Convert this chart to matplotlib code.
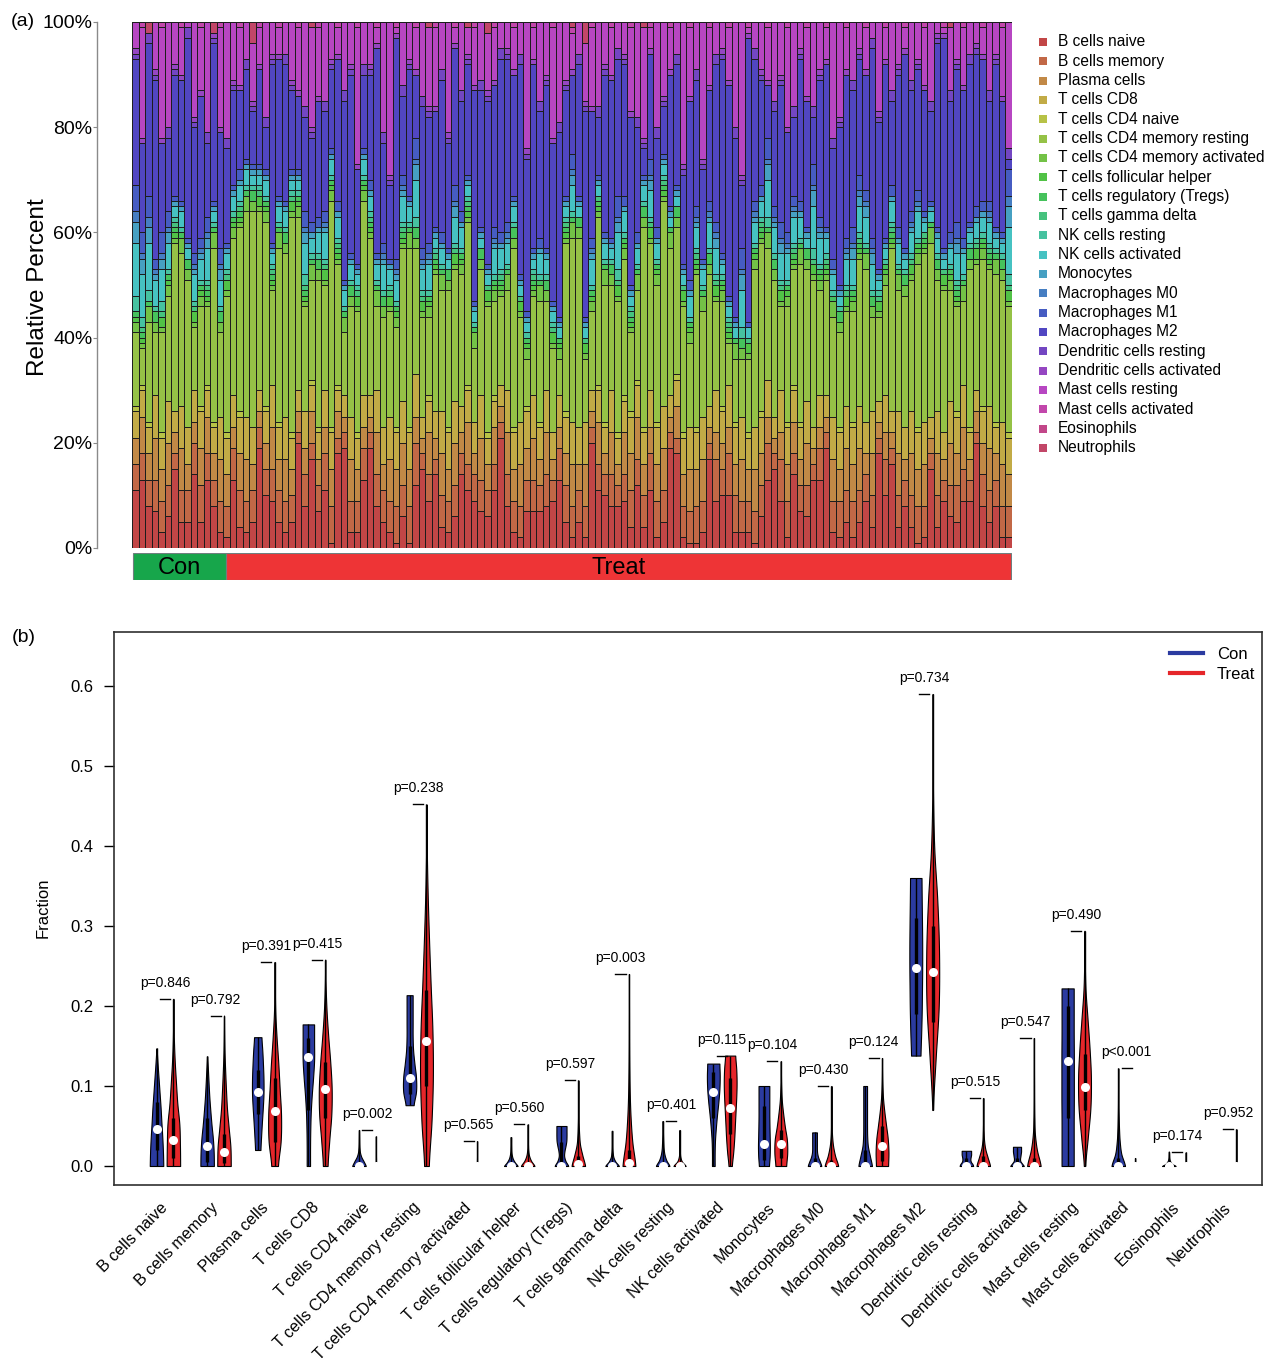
import numpy as np
import matplotlib
matplotlib.use("Agg")
import matplotlib.pyplot as plt
from matplotlib.colors import hsv_to_rgb
from matplotlib.lines import Line2D
from matplotlib.patches import Rectangle

plt.rcParams['font.family'] = ['Liberation Sans', 'DejaVu Sans']

W, H = 1270, 1365

cell_types = ["B cells naive", "B cells memory", "Plasma cells", "T cells CD8",
              "T cells CD4 naive", "T cells CD4 memory resting",
              "T cells CD4 memory activated", "T cells follicular helper",
              "T cells regulatory (Tregs)", "T cells gamma delta", "NK cells resting",
              "NK cells activated", "Monocytes", "Macrophages M0", "Macrophages M1",
              "Macrophages M2", "Dendritic cells resting", "Dendritic cells activated",
              "Mast cells resting", "Mast cells activated", "Eosinophils", "Neutrophils"]

n_con, n_treat = 14, 121
group_names = ["Con", "Treat"]

# ---------------- panel (a): per-sample composition (percent) ----------------
b_naive = [11,13,8,7,3,6,15,5,5,14, 5,13,8,3,2,13,4,3,5,19, 10,9,5,3,5,20,8,17,7,11,
           1,18,19,3,3,13,19,8,5,3, 1,6,1,12,15,9,14,4,3,6, 14,11,9,7,6,11,21,8,3,2,
           7,7,7,8,9,13,5,2,5,2, 20,11,10,8,8,9,4,12,4,11, 2,5,19,18,2,1,1,3,17,9,
           10,10,3,3,3,1,6,13,15,9, 2,14,7,6,13,13,19,3,2,5, 2,5,9,4,18,10,16,4,8,4,
           1,2,15,4,9,6,5,9,9,20, 8,5,8,2,2]
b_memory = [5,5,5,6,6,6,3,6,6,6, 7,5,5,6,6,6,7,6,6,4, 5,6,6,6,5,2,6,3,5,7,
            7,3,3,6,6,6,3,6,6,6, 7,6,7,8,3,5,3,6,6,6, 4,5,5,6,5,5,3,6,6,6,
            6,6,5,6,4,6,7,6,6,6, 3,5,4,6,4,5,7,5,6,7, 7,6,3,3,6,6,7,6,3,8,
            5,8,7,6,6,6,6,7,3,8, 7,4,5,6,3,6,3,6,7,6, 7,6,5,6,3,7,3,6,5,6,
            7,6,3,6,4,6,7,6,4,2, 6,6,5,6,6]
plasma = [5,7,5,8,6,8,4,8,5,4, 7,7,5,8,6,4,7,8,5,3, 5,8,6,8,5,4,5,6,5,5,
          7,5,3,8,6,4,3,8,5,8, 7,8,7,5,3,8,4,8,6,8, 4,8,4,8,5,7,3,8,6,8,
          6,8,5,8,4,4,6,8,5,8, 3,8,4,8,4,8,7,8,6,5, 7,8,3,6,6,8,7,8,3,5,
          5,5,6,8,6,8,6,5,3,5, 7,6,5,8,3,4,3,8,6,8, 7,8,4,8,3,5,3,8,4,8,
          7,8,3,8,4,8,6,8,4,4, 6,8,5,8,6]
t_cd8 = [5,5,5,8,6,8,4,8,7,6, 7,5,5,8,7,6,7,8,7,4, 6,8,6,8,6,4,7,5,5,7,
         7,4,4,8,6,6,4,8,7,8, 7,8,7,8,4,6,5,8,7,8, 5,6,6,8,5,5,4,8,7,8,
         7,8,6,8,5,6,7,8,7,8, 4,6,5,8,5,6,7,6,6,7, 7,8,4,5,7,8,7,8,4,8,
         6,8,7,8,6,8,7,7,4,8, 7,6,6,8,4,6,4,8,7,8, 7,8,6,8,4,7,4,8,6,8,
         7,8,4,8,5,8,7,8,5,4, 6,8,5,8,7]
t_cd4_naive = [1,1,1,0,1,0,0,0,0,0, 1,1,1,0,1,0,1,0,0,0, 1,0,1,0,1,0,0,1,1,0,
               1,1,0,0,1,0,0,0,0,0, 1,0,1,0,0,1,0,0,1,0, 0,1,0,0,1,1,0,0,1,0,
               1,0,1,0,0,0,1,0,0,0, 0,1,1,0,1,1,1,1,1,0, 1,0,0,1,1,0,1,0,0,0,
               1,0,1,0,1,0,1,0,0,0, 1,1,1,0,0,0,0,0,1,0, 1,0,0,0,0,0,0,0,0,0,
               1,0,0,0,0,0,1,0,1,0, 1,0,1,0,1]
t_cd4_mem_rest = [14,7,19,12,19,20,32,29,28,12, 19,15,33,16,26,30,35,39,41,34,
                  35,18,33,31,41,33,20,19,28,20, 43,23,12,21,23,37,30,16,21,20,
                  19,29,34,24,19,15,26,23,26,25, 25,31,14,24,24,18,17,19,34,20,
                  9,19,23,17,16,7,32,35,36,12, 15,32,26,20,25,26,15,17,38,28,
                  26,39,28,28,24,16,29,20,25,17, 20,8,12,11,14,30,32,25,26,16,
                  22,22,30,25,28,20,22,19,18,18, 21,28,29,18,16,21,31,23,25,25,
                  31,32,33,25,27,21,20,16,30,24, 28,26,28,27,24]
t_cd4_mem_act = [2,1,3,2,1,2,1,3,2,1, 2,1,3,2,1,2,1,3,2,1, 2,1,3,2,1,2,1,3,2,1,
                 2,1,3,2,1,2,1,3,2,1, 2,1,3,2,1,2,1,3,2,1, 2,1,3,2,1,2,1,3,2,1,
                 2,1,3,2,1,2,1,3,2,1, 2,1,3,2,1,2,1,3,2,1, 2,1,3,2,1,2,1,3,2,1,
                 2,1,3,2,1,2,1,3,2,1, 2,1,3,2,1,2,1,3,2,1, 2,1,3,2,1,2,1,3,2,1,
                 2,1,3,2,1,2,1,3,2,1, 2,1,3,2,1]
t_fh = [1,1,0,0,2,1,1,0,0,2, 1,1,0,0,2,1,1,0,0,2, 1,1,0,0,2,1,1,0,0,2,
        1,1,0,0,2,1,1,0,0,2, 1,1,0,0,2,1,1,0,0,2, 1,1,0,0,2,1,1,0,0,2,
        1,1,0,0,2,1,1,0,0,2, 1,1,0,0,2,1,1,0,0,2, 1,1,0,0,2,1,1,0,0,2,
        1,1,0,0,2,1,1,0,0,2, 1,1,0,0,2,1,1,0,0,2, 1,1,0,0,2,1,1,0,0,2,
        1,1,0,0,2,1,1,0,0,2, 1,1,0,0,2]
t_reg = [1,1,1,2,0,1,1,1,2,0, 1,1,1,2,0,1,1,1,2,0, 1,1,1,2,0,1,1,1,2,0,
         1,1,1,2,0,1,1,1,2,0, 1,1,1,2,0,1,1,1,2,0, 1,1,1,2,0,1,1,1,2,0,
         1,1,1,2,0,1,1,1,2,0, 1,1,1,2,0,1,1,1,2,0, 1,1,1,2,0,1,1,1,2,0,
         1,1,1,2,0,1,1,1,2,0, 1,1,1,2,0,1,1,1,2,0, 1,1,1,2,0,1,1,1,2,0,
         1,1,1,2,0,1,1,1,2,0, 1,1,1,2,0]
t_gd = [0,1,0,0,1,0,1,0,0,1, 0,1,0,0,1,0,1,0,0,1, 0,1,0,0,1,0,1,0,0,1,
        0,1,0,0,1,0,1,0,0,1, 0,1,0,0,1,0,1,0,0,1, 0,1,0,0,1,0,1,0,0,1,
        0,1,0,0,1,0,1,0,0,1, 0,1,0,0,1,0,1,0,0,1, 0,1,0,0,1,0,1,0,0,1,
        0,1,0,0,1,0,1,0,0,1, 0,1,0,0,1,0,1,0,0,1, 0,1,0,0,1,0,1,0,0,1,
        0,1,0,0,1,0,1,0,0,1, 0,1,0,0,1]
nk_rest = [3,2,2,1,2,1,1,1,0,1, 1,1,1,1,1,1,1,1,1,1, 1,1,1,1,1,1,2,1,1,1,
           1,1,1,1,1,1,1,1,1,1, 1,1,1,2,1,1,1,1,0,1, 1,1,1,0,0,1,1,1,1,0,
           1,1,1,1,1,0,1,1,0,0, 1,0,1,1,2,1,1,1,1,1, 1,1,0,0,0,1,1,1,1,1,
           1,1,0,2,0,1,1,2,1,1, 1,1,1,0,2,1,1,1,1,1, 1,1,1,1,1,1,1,1,1,1,
           1,0,0,1,0,1,1,1,1,1, 1,1,1,1,2]
nk_act = [10,8,9,5,6,5,2,3,2,5, 4,6,2,5,3,3,3,3,2,2, 3,2,3,3,2,2,6,3,4,5,
          3,4,3,3,2,3,3,3,5,3, 4,5,3,7,4,5,2,3,2,5, 4,2,2,2,2,5,4,4,3,2,
          2,2,4,3,2,2,2,5,2,2, 5,2,3,2,7,4,2,3,3,5, 3,2,2,2,2,4,4,3,5,5,
          2,2,2,7,2,4,3,7,5,5, 5,5,4,2,8,5,3,3,2,5, 5,5,5,5,2,2,4,4,2,4,
          5,2,2,3,2,3,5,4,2,3, 3,4,2,2,9]
monocytes = [4,3,3,1,2,2,1,1,1,1, 1,2,1,2,1,1,1,1,1,1, 1,1,1,1,1,1,2,1,1,1,
             1,1,1,1,1,1,1,1,1,1, 1,1,1,3,1,1,1,1,1,2, 1,1,1,1,1,1,1,1,1,1,
             1,1,1,1,1,1,1,2,1,1, 1,1,1,1,2,1,1,1,1,2, 1,1,1,1,1,1,1,1,1,2,
             1,1,1,3,0,1,1,3,1,2, 1,1,1,1,3,1,1,1,1,1, 2,2,2,2,1,1,1,1,1,1,
             1,1,1,1,1,1,2,1,1,1, 1,1,1,1,4]
mac_m0 = [2,1,2,1,1,1,0,0,0,1, 1,1,0,1,0,0,0,0,0,0, 0,0,0,0,0,0,1,0,0,1,
          0,0,0,0,0,0,0,0,1,0, 1,1,0,1,1,1,0,0,0,1, 0,0,0,0,0,1,0,1,0,0,
          0,0,0,0,0,0,0,1,0,0, 1,0,0,0,1,0,0,0,0,1, 0,0,0,0,0,0,1,0,1,1,
          0,0,0,1,0,1,0,1,1,1, 1,1,0,0,1,1,0,0,0,1, 1,1,1,1,0,0,0,0,0,1,
          1,0,0,0,0,0,1,0,0,0, 0,1,0,0,2]
mac_m1 = [5,4,4,2,4,3,1,1,1,2, 2,3,1,3,1,1,2,1,1,1, 1,1,1,1,1,1,3,2,2,2,
          1,2,1,1,1,1,2,1,2,1, 2,2,1,4,2,2,1,2,1,3, 2,1,1,1,1,2,2,2,1,1,
          1,1,2,1,1,1,1,3,1,1, 2,1,1,1,4,2,1,2,1,3, 2,1,1,1,1,2,2,1,2,2,
          1,1,1,4,1,2,2,4,2,3, 2,2,2,1,4,2,1,2,1,2, 3,3,2,2,1,1,2,2,1,2,
          2,1,1,1,1,2,3,2,1,2, 2,2,1,1,5]
mac_m2 = [24,17,29,34,17,14,23,23,38,24, 27,14,30,22,18,18,15,17,10,18,
          8,34,26,26,15,14,18,16,22,19, 15,27,34,34,18,14,20,39,19,14,
          42,15,24,12,27,24,22,29,20,26, 21,21,40,26,31,27,33,31,23,40,
          29,35,24,31,30,35,20,15,25,39, 24,11,30,30,26,25,32,20,5,20,
          17,9,25,23,17,34,24,17,21,30, 37,40,34,12,54,27,20,10,18,26,
          19,15,27,24,9,26,31,21,30,31, 26,22,22,36,28,33,16,29,37,23,
          23,23,17,35,40,25,29,28,30,29, 27,19,31,25,2]
dc_rest = [1,0,2,1,0,2,1,0,2,1, 0,2,1,0,2,1,0,2,1,0, 2,1,0,2,1,0,2,1,0,2,
           1,0,2,1,0,2,1,0,2,1, 0,2,1,0,2,1,0,2,1,0, 2,1,0,2,1,0,2,1,0,2,
           1,0,2,1,0,2,1,0,2,1, 0,2,1,0,2,1,0,2,1,0, 2,1,0,2,1,0,2,1,0,2,
           1,0,2,1,0,2,1,0,2,1, 0,2,1,0,2,1,0,2,1,0, 2,1,0,2,1,0,2,1,0,2,
           1,0,2,1,0,2,1,0,2,1, 0,2,1,0,2]
dc_act = [1,1,0,1,1,0,1,1,0,1, 1,0,1,1,0,1,1,0,1,1, 0,1,1,0,1,1,0,1,1,0,
          1,1,0,1,1,0,1,1,0,1, 1,0,1,1,0,1,1,0,1,1, 0,1,1,0,1,1,0,1,1,0,
          1,1,0,1,1,0,1,1,0,1, 1,0,1,1,0,1,1,0,1,1, 0,1,1,0,1,1,0,1,1,0,
          1,1,0,1,1,0,1,1,0,1, 1,0,1,1,0,1,1,0,1,1, 0,1,1,0,1,1,0,1,1,0,
          1,1,0,1,1,0,1,1,0,1, 1,0,1,1,0]
mast_rest = [5,21,0,9,21,20,8,9,1,18, 12,21,0,19,22,11,11,7,11,7, 18,6,5,6,11,12,16,19,13,15,
             7,5,13,8,26,8,8,3,21,29, 1,12,7,8,14,15,15,9,21,3, 13,5,11,11,11,10,5,5,8,6,
             24,6,15,10,21,19,11,7,6,11, 15,16,8,9,5,6,16,18,21,4, 20,14,8,6,27,13,9,26,11,6,
             5,10,20,29,1,5,9,10,15,10, 19,16,5,13,16,9,6,22,18,8, 11,5,8,3,17,6,13,8,4,11,
             7,11,15,2,1,12,7,11,6,4, 5,13,6,13,24]
mast_act = [0,1,0,0,1,0,0,1,0,0, 1,0,0,1,0,0,1,0,0,1, 0,0,1,0,0,1,0,0,1,0,
            0,1,0,0,1,0,0,1,0,0, 1,0,0,1,0,0,1,0,0,1, 0,0,1,0,0,1,0,0,1,0,
            0,1,0,0,1,0,0,1,0,0, 1,0,0,1,0,0,1,0,0,1, 0,0,1,0,0,1,0,0,1,0,
            0,1,0,0,1,0,0,1,0,0, 1,0,0,1,0,0,1,0,0,1, 0,0,1,0,0,1,0,0,1,0,
            0,1,0,0,1,0,0,1,0,0, 1,0,0,1,0]
eosinophils = [0,0,0,0,0,0,0,0,0,0, 0,0,0,0,0,0,0,0,0,0, 0,0,0,0,0,0,0,0,0,0,
               0,0,0,0,0,0,0,0,0,0, 0,0,0,0,0,0,0,0,0,0, 0,0,0,0,0,0,0,0,0,0,
               0,0,0,0,0,0,0,0,0,0, 0,0,0,0,0,0,0,0,0,0, 0,0,0,0,0,0,0,0,0,0,
               0,0,0,0,0,0,0,0,0,0, 0,0,0,0,0,0,0,0,0,0, 0,0,0,0,0,0,0,0,0,0,
               0,0,0,0,0,0,0,0,0,0, 0,0,0,0,0]
neutrophils = [0,0,2,0,0,0,0,0,0,0, 0,0,2,0,0,0,0,0,4,0, 0,0,0,0,0,0,0,1,0,0,
               0,0,0,0,0,0,0,0,0,0, 0,0,0,0,0,1,0,0,0,0, 0,1,0,0,2,0,0,0,0,0,
               0,0,0,0,0,0,0,1,0,4, 0,0,0,0,0,0,0,0,1,0, 0,0,0,0,0,0,0,0,0,0,
               0,0,0,0,0,0,0,0,0,0, 0,0,0,0,0,0,0,0,0,0, 0,0,0,0,0,0,0,0,0,0,
               0,0,0,0,0,1,0,0,0,0, 0,0,0,0,0]

# ---------------- panel (b): violin summaries per cell type ----------------
p_values = [0.846, 0.792, 0.391, 0.415, 0.002, 0.238, 0.565, 0.560, 0.597, 0.003, 0.401,
            0.115, 0.104, 0.430, 0.124, 0.734, 0.515, 0.547, 0.490, 0.0004, 0.174, 0.952]

con_min = [0, 0, 0.02, 0, 0, 0.076, 0, 0, 0, 0, 0, 0, 0, 0, 0, 0.138, 0, 0, 0, 0, 0, 0]
con_max = [0.147, 0.137, 0.161, 0.177, 0.045, 0.2135, 0, 0.036, 0.05, 0.044, 0.056,
           0.128, 0.10, 0.042, 0.10, 0.36, 0.019, 0.024, 0.222, 0.122, 0.018, 0]
con_med = [0.046, 0.025, 0.093, 0.136, 0, 0.110, 0, 0, 0, 0, 0, 0.093, 0.027, 0, 0, 0.248,
           0, 0, 0.131, 0, 0, 0]
con_q1 = [0.02, 0.005, 0.065, 0.07, 0, 0.09, 0, 0, 0, 0, 0, 0.06, 0.008, 0, 0, 0.19,
          0, 0, 0.06, 0, 0, 0]
con_q3 = [0.08, 0.06, 0.12, 0.16, 0.005, 0.15, 0, 0.004, 0.03, 0.003, 0.004, 0.118, 0.075,
          0.01, 0.02, 0.31, 0.01, 0.01, 0.2, 0.01, 0.002, 0]
con_shape = [
    [1.0, 0.95, 0.85, 0.72, 0.6, 0.45, 0.3, 0.15, 0.03],
    [1.0, 0.97, 0.85, 0.65, 0.48, 0.33, 0.22, 0.12, 0.03],
    [0.4, 0.5, 0.62, 0.75, 0.85, 0.85, 0.78, 0.68, 0.55],
    [0.25, 0.25, 0.28, 0.35, 0.5, 0.7, 0.85, 0.85, 0.85],
    [1.0, 0.7, 0.35, 0.15, 0.08, 0.05, 0.04, 0.03, 0.02],
    [0.6, 0.95, 0.95, 0.72, 0.52, 0.45, 0.45, 0.45, 0.45],
    [0, 0, 0, 0, 0, 0, 0, 0, 0],
    [1.0, 0.6, 0.3, 0.15, 0.08, 0.06, 0.05, 0.05, 0.05],
    [1.0, 0.6, 0.4, 0.45, 0.6, 0.72, 0.75, 0.75, 0.75],
    [1.0, 0.5, 0.2, 0.1, 0.06, 0.05, 0.05, 0.05, 0.05],
    [1.0, 0.55, 0.28, 0.15, 0.1, 0.07, 0.05, 0.05, 0.05],
    [0.2, 0.2, 0.25, 0.38, 0.55, 0.75, 0.9, 0.95, 0.9],
    [0.75, 0.85, 0.88, 0.85, 0.82, 0.8, 0.8, 0.8, 0.8],
    [1.0, 0.8, 0.55, 0.4, 0.35, 0.35, 0.35, 0.35, 0.35],
    [1.0, 0.7, 0.4, 0.3, 0.28, 0.28, 0.28, 0.28, 0.28],
    [0.7, 0.8, 0.88, 0.92, 0.95, 0.95, 0.92, 0.88, 0.85],
    [1.0, 0.9, 0.7, 0.6, 0.6, 0.65, 0.7, 0.7, 0.7],
    [1.0, 0.75, 0.5, 0.45, 0.5, 0.55, 0.6, 0.6, 0.6],
    [0.9, 0.9, 0.9, 0.92, 0.92, 0.92, 0.9, 0.9, 0.9],
    [1.0, 0.45, 0.22, 0.12, 0.07, 0.04, 0.03, 0.02, 0.02],
    [1.0, 0.55, 0.3, 0.15, 0.08, 0.05, 0.04, 0.03, 0.03],
    [0, 0, 0, 0, 0, 0, 0, 0, 0],
]

trt_min = [0, 0, 0, 0, 0, 0, 0, 0, 0, 0, 0, 0, 0, 0, 0, 0.07, 0, 0, 0, 0, 0, 0]
trt_max = [0.209, 0.188, 0.255, 0.258, 0.037, 0.452, 0.031, 0.052, 0.107, 0.24, 0.045,
           0.138, 0.131, 0.10, 0.135, 0.59, 0.085, 0.16, 0.294, 0.01, 0.017, 0.046]
trt_med = [0.033, 0.018, 0.069, 0.096, 0, 0.156, 0, 0, 0.003, 0.004, 0, 0.072, 0.027, 0,
           0.025, 0.242, 0, 0, 0.099, 0, 0, 0]
trt_q1 = [0.01, 0.004, 0.03, 0.06, 0, 0.1, 0, 0, 0, 0, 0, 0.04, 0.01, 0, 0.006, 0.18,
          0, 0, 0.07, 0, 0, 0]
trt_q3 = [0.06, 0.04, 0.11, 0.13, 0, 0.22, 0, 0.005, 0.012, 0.02, 0, 0.11, 0.045, 0.008,
          0.05, 0.3, 0.012, 0.01, 0.14, 0, 0, 0]
trt_shape = [
    [1.0, 0.97, 0.88, 0.58, 0.38, 0.2, 0.08, 0.03, 0.01],
    [1.0, 0.95, 0.7, 0.45, 0.3, 0.18, 0.08, 0.03, 0.01],
    [0.5, 0.9, 0.95, 0.75, 0.55, 0.3, 0.1, 0.03, 0.01],
    [0.35, 0.6, 0.9, 0.95, 0.75, 0.45, 0.2, 0.06, 0.01],
    [0.1, 0.03, 0.02, 0.01, 0.01, 0.01, 0.01, 0.01, 0.01],
    [0.35, 0.75, 0.95, 0.88, 0.62, 0.38, 0.18, 0.05, 0.01],
    [0.1, 0.03, 0.02, 0.01, 0.01, 0.01, 0.01, 0.01, 0.01],
    [1.0, 0.5, 0.2, 0.08, 0.04, 0.02, 0.01, 0.01, 0.01],
    [1.0, 0.6, 0.25, 0.12, 0.06, 0.03, 0.02, 0.01, 0.01],
    [0.95, 0.5, 0.25, 0.12, 0.06, 0.03, 0.02, 0.01, 0.01],
    [0.9, 0.35, 0.12, 0.05, 0.03, 0.02, 0.02, 0.02, 0.02],
    [0.25, 0.45, 0.6, 0.7, 0.8, 0.9, 0.95, 0.9, 0.75],
    [0.8, 0.95, 0.9, 0.6, 0.35, 0.15, 0.06, 0.02, 0.01],
    [1.0, 0.55, 0.25, 0.1, 0.05, 0.03, 0.02, 0.01, 0.01],
    [0.9, 0.95, 0.85, 0.6, 0.35, 0.15, 0.06, 0.02, 0.01],
    [0.05, 0.45, 0.9, 0.95, 0.7, 0.25, 0.06, 0.02, 0.01],
    [1.0, 0.65, 0.3, 0.12, 0.06, 0.03, 0.02, 0.01, 0.01],
    [1.0, 0.45, 0.15, 0.06, 0.03, 0.02, 0.01, 0.01, 0.01],
    [0.1, 0.5, 0.88, 0.95, 0.75, 0.45, 0.15, 0.04, 0.01],
    [0.1, 0.03, 0.02, 0.01, 0.01, 0.01, 0.01, 0.01, 0.01],
    [0.1, 0.03, 0.02, 0.01, 0.01, 0.01, 0.01, 0.01, 0.01],
    [0.1, 0.03, 0.02, 0.01, 0.01, 0.01, 0.01, 0.01, 0.01],
]

# ============================ drawing ============================
fig = plt.figure(figsize=(W / 100, H / 100), dpi=100)


def fx(px):
    return px / W


def fy(py):
    return 1 - py / H


# ---- panel (a) ----
comp = np.array([b_naive, b_memory, plasma, t_cd8, t_cd4_naive, t_cd4_mem_rest,
                 t_cd4_mem_act, t_fh, t_reg, t_gd, nk_rest, nk_act, monocytes, mac_m0,
                 mac_m1, mac_m2, dc_rest, dc_act, mast_rest, mast_act, eosinophils,
                 neutrophils], dtype=float)
comp = comp / comp.sum(axis=0, keepdims=True)
n_samp = comp.shape[1]
xs = np.arange(n_samp)

hues = np.arange(len(cell_types)) / len(cell_types)
colors = [hsv_to_rgb((h, 0.64, 0.76)) for h in hues]

axa = fig.add_axes([fx(132), fy(548), fx(880), 526 / H])
bottom = np.zeros(n_samp)
for k in range(len(cell_types)):
    axa.bar(xs, comp[k], bottom=bottom, width=1.0, color=colors[k],
            edgecolor='#1c1c1c', linewidth=0.7)
    bottom += comp[k]
axa.set_xlim(-0.5, n_samp - 0.5)
axa.set_ylim(0, 1)
for s in ['top', 'right', 'bottom']:
    axa.spines[s].set_visible(False)
axa.spines['left'].set_position(('outward', 25))
axa.spines['left'].set_color('#8a8a8a')
axa.spines['left'].set_linewidth(1.0)
axa.set_xticks([])
axa.set_yticks(np.linspace(0, 1, 6))
axa.set_yticklabels([f"{int(v)}%" for v in np.linspace(0, 100, 6)])
axa.tick_params(axis='y', length=3, width=0.8, color='#8a8a8a', pad=0.5,
                labelsize=14)

fig.text(fx(11), fy(22), "(a)", fontsize=14, va='center', ha='left')
fig.text(fx(38), fy(287), "Relative Percent", fontsize=17.5, rotation=90,
         va='center', ha='center')

# group strip
axg = fig.add_axes([fx(132), fy(580), fx(880), 27 / H])
axg.set_xlim(-0.5, n_samp - 0.5)
axg.set_ylim(0, 1)
axg.axis('off')
spans = [(-0.3, n_con - 0.1), (n_con - 0.1, n_con + n_treat - 0.7)]
gcols = ['#17a64b', '#ee3436']
for (x0, x1), gc, gn in zip(spans, gcols, group_names):
    axg.add_patch(Rectangle((x0, 0), x1 - x0, 1, facecolor=gc, edgecolor='#6f7f7f',
                            linewidth=0.8))
    axg.text((x0 + x1) / 2, 0.45, gn, fontsize=17, ha='center', va='center')

# legend of panel (a)
ov = fig.add_axes([0, 0, 1, 1], zorder=10)
ov.set_xlim(0, W)
ov.set_ylim(H, 0)
ov.axis('off')
for k, name in enumerate(cell_types):
    yk = 42 + 19.33 * k
    ov.scatter([1043], [yk], marker='s', s=26, color=colors[k], linewidths=0)
    ov.text(1058, yk, name, fontsize=11.2, va='center', ha='left')

# ---- panel (b) ----
ylo = (1166 - 1185) / 800
yhi = (1166 - 632) / 800
axb = fig.add_axes([fx(114), fy(1185), fx(1148), 553 / H])
axb.set_xlim(-2.52, 65.52)
axb.set_ylim(ylo, yhi)
for s in axb.spines.values():
    s.set_linewidth(1.2)
    s.set_color('#303030')
axb.set_xticks([])
axb.set_yticks(np.arange(0, 0.61, 0.1))
axb.set_yticklabels([f"{v:.1f}" for v in np.arange(0, 0.61, 0.1)])
axb.tick_params(axis='y', length=7, width=1, pad=8, labelsize=12)

fig.text(fx(12), fy(638), "(b)", fontsize=14, va='center', ha='left')
fig.text(fx(43), fy(908), "Fraction", fontsize=12, rotation=90, va='center', ha='center')

BLUE = '#2b3ba0'
RED = '#e5262a'


def smooth_profile(knots, n=120):
    k = np.asarray(knots, float)
    m = len(k)
    t = np.linspace(0, m - 1, n)
    i = np.clip(np.floor(t).astype(int), 0, m - 2)
    u = t - i
    p0 = k[np.clip(i - 1, 0, m - 1)]
    p1 = k[i]
    p2 = k[i + 1]
    p3 = k[np.clip(i + 2, 0, m - 1)]
    v = 0.5 * (2 * p1 + (-p0 + p2) * u + (2 * p0 - 5 * p1 + 4 * p2 - p3) * u ** 2
               + (-p0 + 3 * p1 - 3 * p2 + p3) * u ** 3)
    return np.clip(v, 0.004, None)


def draw_violin(pos, mn, mx, md, q1, q3, shape, col):
    if mx <= mn:
        return
    coords = np.linspace(mn, mx, 120)
    vals = smooth_profile(shape, 120)
    stats = dict(coords=coords, vals=vals, mean=md, median=md, min=mn, max=mx,
                 quantiles=[])
    parts = axb.violin([stats], positions=[pos], widths=[0.8 * vals.max()],
                       showextrema=False, showmeans=False, showmedians=False)
    for b in parts['bodies']:
        b.set_facecolor(col)
        b.set_edgecolor('black')
        b.set_linewidth(0.8)
        b.set_alpha(1)
        b.set_zorder(2)
    axb.vlines(pos, mn, mx, color='black', lw=1.0, zorder=3)
    if q3 > q1:
        axb.vlines(pos, q1, q3, color='black', lw=2.4, zorder=3)
    axb.plot([pos], [md], 'o', color='white', ms=6.5, mec='none', zorder=4)


for i in range(len(cell_types)):
    xb = 3 * i
    draw_violin(xb, con_min[i], con_max[i], con_med[i], con_q1[i], con_q3[i],
                con_shape[i], BLUE)
    draw_violin(xb + 1, trt_min[i], trt_max[i], trt_med[i], trt_q1[i], trt_q3[i],
                trt_shape[i], RED)
    mxv = max(con_max[i], trt_max[i])
    axb.plot([xb + 0.2, xb + 0.8], [mxv, mxv], color='black', lw=1.0, zorder=3)
    p = p_values[i]
    lab = "p<0.001" if p < 0.001 else f"p={p:.3f}"
    axb.text(xb + 0.5, mxv + 0.02, lab, fontsize=10, ha='center', va='center')
    axb.text(xb + 1 - 0.5, -0.049, cell_types[i], fontsize=11.6, rotation=45,
             rotation_mode='anchor', ha='right', va='center', clip_on=False)

axb.legend(handles=[Line2D([], [], color=BLUE, lw=3), Line2D([], [], color=RED, lw=3)],
           labels=group_names, loc='upper right', frameon=False, fontsize=12,
           handlelength=2.0, handletextpad=0.8, borderaxespad=0.3, borderpad=0.3,
           labelspacing=0.3, bbox_to_anchor=(1 + 3 / 1148, 1 - 5 / 553))

fig.savefig("out.png", dpi=100)
